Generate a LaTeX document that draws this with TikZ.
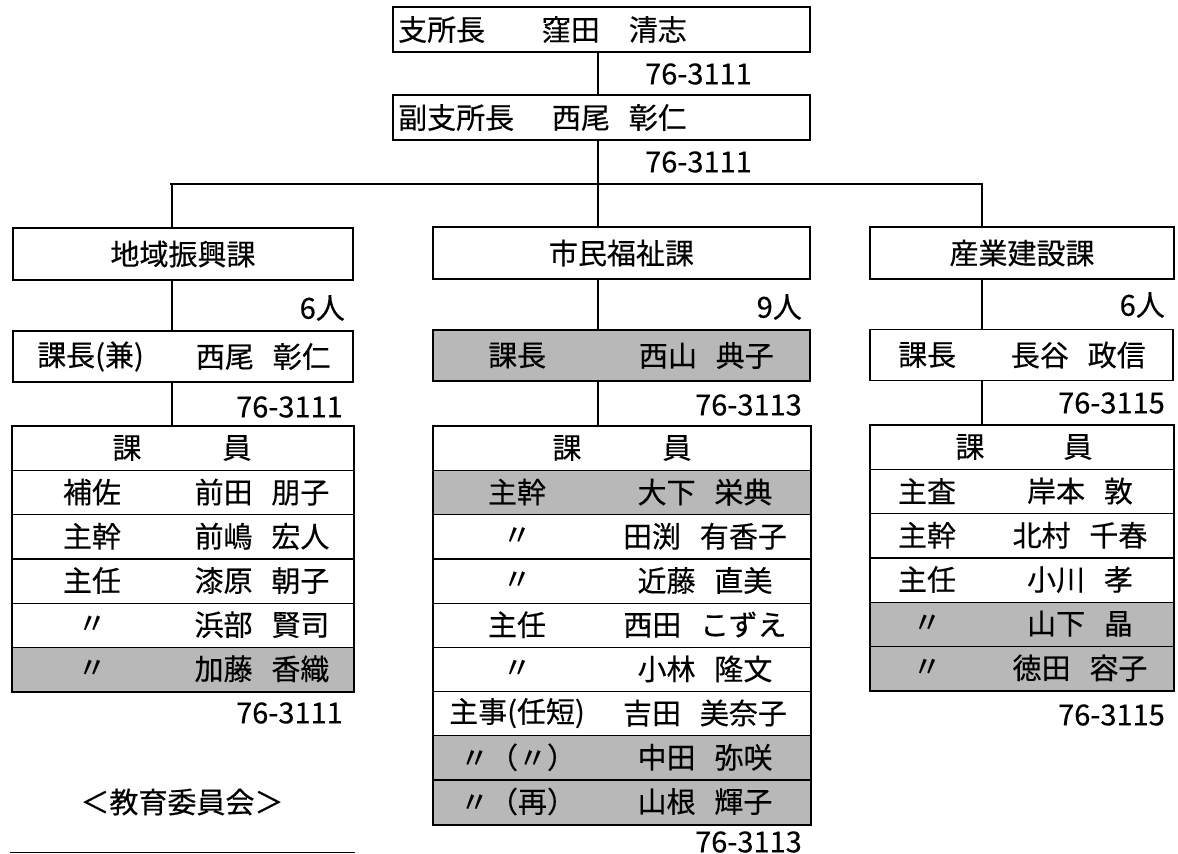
\documentclass[tikz,border=0pt]{standalone}
\usepackage{fontspec}
\setmainfont{Noto Sans CJK JP}[FakeBold=0.35]
\definecolor{shadegray}{gray}{0.72}
\newcommand{\gp}{\hspace{0.65em}}
\begin{document}
\begin{tikzpicture}[x=1pt,y=-1pt,
  box/.style={draw, line width=1.8pt, rectangle, inner sep=0pt},
  cell/.style={draw, line width=1.1pt, rectangle, inner sep=0pt, minimum height=44.2pt, anchor=north west},
  hdr/.style={draw, line width=1.1pt, rectangle, inner sep=0pt, minimum height=44pt, anchor=north west},
  shaded/.style={fill=shadegray},
  txt/.style={inner sep=0pt, font=\fontsize{29}{30}\selectfont},
  wire/.style={line width=1.6pt},
  outer/.style={line width=1.8pt}]
\useasboundingbox (0,0) rectangle (1178,854);
\fill[white] (0,0) rectangle (1178,854);

% columns for connectors
\coordinate (cx) at (598,0);
\coordinate (lx) at (172,0);
\coordinate (mx) at (598,0);
\coordinate (rx) at (982,0);

% top boxes
\node[box, minimum width=417pt, minimum height=45pt] (top) at (601.5,29.5) {};
\node[txt, anchor=west] (topt) at (398,29.5) {支所長};
\node[txt, anchor=east] (topn) at (687,29.5) {窪田\hspace{1em}清志};
\node[txt, anchor=east] (topp) at (752,74) {76-3111};

\node[box, minimum width=417pt, minimum height=45pt] (sub) at (601.5,117.5) {};
\node[txt, anchor=west] (subt) at (398,117.5) {副支所長};
\node[txt, anchor=east] (subn) at (687,117.5) {西尾\gp 彰仁};
\node[txt, anchor=east] (subp) at (752,162) {76-3111};

\coordinate (busL) at (170,184);
\coordinate (busR) at (983,184);
\draw[wire] (top.south -| cx) -- (sub.north -| cx);
\draw[wire] (sub.south -| cx) -- (busL -| cx);
\draw[wire] (busL) -- (busR);

% departments
\node[box, minimum width=340pt, minimum height=52pt, font=\fontsize{29}{30}\selectfont] (ld) at (183,254) {地域振興課};
\node[box, minimum width=377pt, minimum height=52pt, font=\fontsize{29}{30}\selectfont] (md) at (621.5,253) {市民福祉課};
\node[box, minimum width=304pt, minimum height=52pt, font=\fontsize{29}{30}\selectfont] (rd) at (1022,253) {産業建設課};
\draw[wire] (busL -| lx) -- (ld.north -| lx);
\draw[wire] (busL -| mx) -- (md.north -| mx);
\draw[wire] (busR -| rx) -- (rd.north -| rx);

\node[txt, anchor=east] (lcnt) at (345,308) {6人};
\node[txt, anchor=east] (mcnt) at (802,307) {9人};
\node[txt, anchor=east] (rcnt) at (1165,305) {6人};

% chiefs
\node[box, minimum width=340pt, minimum height=51pt] (lc) at (183,356.5) {};
\node[box, shaded, minimum width=377pt, minimum height=51pt] (mc) at (621.5,355.5) {};
\node[box, minimum width=303pt, minimum height=51pt] (rc) at (1021.5,355) {};
\draw[wire] (ld.south -| lx) -- (lc.north -| lx);
\draw[wire] (md.south -| mx) -- (mc.north -| mx);
\draw[wire] (rd.south -| rx) -- (rc.north -| rx);

\node[txt, anchor=west] (lct) at (37,356.5) {課長(兼)};
\node[txt, anchor=east] (lcn) at (331,356.5) {西尾\gp 彰仁};
\node[txt, anchor=west] (mct) at (488,355.5) {課長};
\node[txt, anchor=east] (mcn) at (774,355.5) {西山\gp 典子};
\node[txt, anchor=west] (rct) at (898,355) {課長};
\node[txt, anchor=east] (rcn) at (1146,355) {長谷\gp 政信};

\node[txt, anchor=east] (lcp) at (343,407) {76-3111};
\node[txt, anchor=east] (mcp) at (802,405) {76-3113};
\node[txt, anchor=east] (rcp) at (1165,403) {76-3115};

% ---------- left table ----------
\node[hdr, minimum width=341pt] (lh) at (12,426) {};
\node[cell, minimum width=341pt] (l1) at (12,470) {};
\node[cell, minimum width=341pt] (l2) at (12,514.2) {};
\node[cell, minimum width=341pt] (l3) at (12,558.4) {};
\node[cell, minimum width=341pt] (l4) at (12,602.6) {};
\node[cell, shaded, minimum width=341pt] (l5) at (12,646.8) {};
\draw[outer] (lh.north west) rectangle (l5.south east);
\draw[wire] (lc.south -| lx) -- (lh.north -| lx);

\node[txt] at (127,448) {課};
\node[txt] at (237,448) {員};
\node[txt] at (92,492.1) {補佐};   \node[txt] at (262,492.1) {前田\gp 朋子};
\node[txt] at (92,536.3) {主幹};   \node[txt] at (262,536.3) {前嶋\gp 宏人};
\node[txt] at (92,580.5) {主任};   \node[txt] at (262,580.5) {漆原\gp 朝子};
\node[txt] at (92,624.7) {〃};     \node[txt] at (262,624.7) {浜部\gp 賢司};
\node[txt] at (92,668.9) {〃};     \node[txt] at (262,668.9) {加藤\gp 香織};
\node[txt, anchor=east] (lfp) at (343,713) {76-3111};

\node[txt] (edu) at (182,802) {＜教育委員会＞};
\coordinate (bl1) at (10,852.5);
\coordinate (bl2) at (355,852.5);
\draw[outer] (bl1) -- (bl2);

% ---------- middle table ----------
\node[hdr, minimum width=377pt] (mh) at (433,426) {};
\node[cell, shaded, minimum width=377pt] (m1) at (433,470) {};
\node[cell, minimum width=377pt] (m2) at (433,514.2) {};
\node[cell, minimum width=377pt] (m3) at (433,558.4) {};
\node[cell, minimum width=377pt] (m4) at (433,602.6) {};
\node[cell, minimum width=377pt] (m5) at (433,646.8) {};
\node[cell, minimum width=377pt] (m6) at (433,691) {};
\node[cell, shaded, minimum width=377pt] (m7) at (433,735.2) {};
\node[cell, shaded, minimum width=377pt] (m8) at (433,779.4) {};
\draw[outer] (mh.north west) rectangle (m8.south east);
\draw[wire] (mc.south -| mx) -- (mh.north -| mx);

\node[txt] at (567,448) {課};
\node[txt] at (677,448) {員};
\node[txt] at (517,492.1) {主幹};       \node[txt] at (705,492.1) {大下\gp 栄典};
\node[txt] at (517,536.3) {〃};         \node[txt] at (705,536.3) {田渕\gp 有香子};
\node[txt] at (517,580.5) {〃};         \node[txt] at (705,580.5) {近藤\gp 直美};
\node[txt] at (517,624.7) {主任};       \node[txt] at (705,624.7) {西田\gp こずえ};
\node[txt] at (517,668.9) {〃};         \node[txt] at (705,668.9) {小林\gp 隆文};
\node[txt] at (517,713.1) {主事(任短)}; \node[txt] at (705,713.1) {吉田\gp 美奈子};
\node[txt] at (518,757.3) {〃（〃）};   \node[txt] at (705,757.3) {中田\gp 弥咲};
\node[txt] at (518,801.5) {〃（再）};   \node[txt] at (705,801.5) {山根\gp 輝子};
\node[txt, anchor=east] (mfp) at (802,842) {76-3113};

% ---------- right table ----------
\node[hdr, minimum width=303pt] (rh) at (870,425) {};
\node[cell, minimum width=303pt] (r1) at (870,469) {};
\node[cell, minimum width=303pt] (r2) at (870,513.2) {};
\node[cell, minimum width=303pt] (r3) at (870,557.4) {};
\node[cell, shaded, minimum width=303pt] (r4) at (870,601.6) {};
\node[cell, shaded, minimum width=303pt] (r5) at (870,645.8) {};
\draw[outer] (rh.north west) rectangle (r5.south east);
\draw[wire] (rc.south -| rx) -- (rh.north -| rx);

\node[txt] at (970,447) {課};
\node[txt] at (1078,447) {員};
\node[txt] at (927,491.1) {主査};   \node[txt] at (1080,491.1) {岸本\gp 敦};
\node[txt] at (927,535.3) {主幹};   \node[txt] at (1080,535.3) {北村\gp 千春};
\node[txt] at (927,579.5) {主任};   \node[txt] at (1080,579.5) {小川\gp 孝};
\node[txt] at (927,623.7) {〃};     \node[txt] at (1080,623.7) {山下\gp 晶};
\node[txt] at (927,667.9) {〃};     \node[txt] at (1080,667.9) {徳田\gp 容子};
\node[txt, anchor=east] (rfp) at (1165,715) {76-3115};
\end{tikzpicture}
\end{document}
